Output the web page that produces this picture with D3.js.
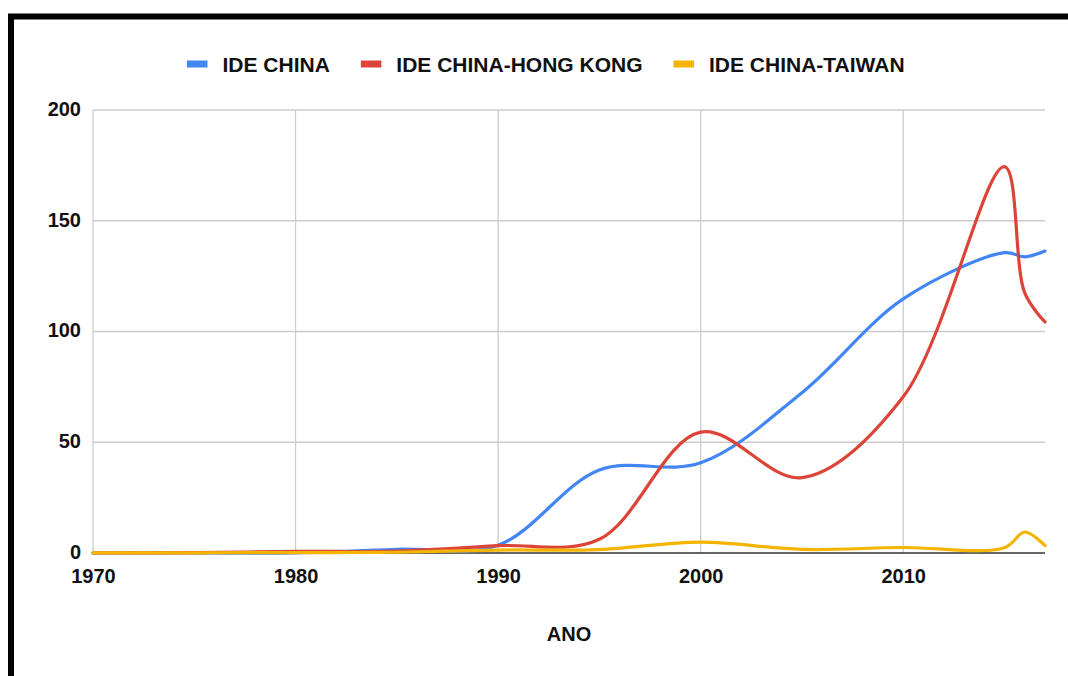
<!DOCTYPE html>
<html><head><meta charset="utf-8">
<script src="https://cdn.jsdelivr.net/npm/d3@7/dist/d3.min.js"></script>
<style>html,body{margin:0;padding:0;background:#fff;}svg{display:block;font-family:"Liberation Sans",Arial,sans-serif;}</style>
</head><body>
<svg id="c" width="1068" height="676"></svg>
<script>
const years = [1970,1975,1980,1985,1990,1995,2000,2005,2010,2015,2016,2017];
const ideChina = [0, 0, 0.06, 1.66, 3.49, 37.5, 40.7, 72.4, 114.7, 135.6, 133.7, 136.3];
const ideHongKong = [0, 0.2, 0.7, 0.9, 3.3, 6.2, 54.6, 34.0, 70.5, 174.4, 117.4, 104.3];
const ideTaiwan = [0.06, 0.1, 0.17, 0.34, 1.33, 1.56, 4.93, 1.63, 2.49, 2.41, 9.47, 3.3];
const seriesNames = ["IDE CHINA","IDE CHINA-HONG KONG","IDE CHINA-TAIWAN"];
const seriesColors = ["#4285F4","#DB4437","#F4B400"];
const xTicks = [1970,1980,1990,2000,2010];
const yTicks = [0,50,100,150,200];
const xTitle = "ANO";

const svg = d3.select("#c");
const L=93, R=1045, T=110, B=553;
const x = d3.scaleLinear().domain([1970,2017]).range([L,R]);
const y = d3.scaleLinear().domain([0,200]).range([B,T]);
const txt = "#111";

// frame border
svg.append("rect").attr("x",11).attr("y",16.5).attr("width",1120).attr("height",720)
  .attr("fill","none").attr("stroke","#000").attr("stroke-width",6);

// gridlines
svg.append("g").selectAll("line").data(yTicks.filter(d=>d>0)).join("line")
  .attr("x1",L).attr("x2",R).attr("y1",d=>y(d)).attr("y2",d=>y(d))
  .attr("stroke","#cccccc").attr("stroke-width",1.3);
svg.append("g").selectAll("line").data(xTicks).join("line")
  .attr("x1",d=>x(d)).attr("x2",d=>x(d)).attr("y1",T).attr("y2",B)
  .attr("stroke","#cccccc").attr("stroke-width",1.3);

// axes labels via d3 axes
const yAxis = svg.append("g").attr("transform",`translate(${L},0)`)
  .call(d3.axisLeft(y).tickValues(yTicks).tickSize(0).tickPadding(12));
yAxis.select(".domain").remove();
yAxis.selectAll("text").attr("font-size",20).attr("font-weight","bold").attr("fill",txt)
  .attr("font-family","'Liberation Sans',Arial,sans-serif").attr("dy","0.0em").attr("dominant-baseline","middle");

const xAxis = svg.append("g").attr("transform",`translate(0,${B})`)
  .call(d3.axisBottom(x).tickValues(xTicks).tickFormat(d3.format("d")).tickSize(0).tickPadding(16));
xAxis.select(".domain").remove();
xAxis.selectAll("text").attr("font-size",20).attr("font-weight","bold").attr("fill",txt)
  .attr("font-family","'Liberation Sans',Arial,sans-serif");

// baseline
svg.append("line").attr("x1",L).attr("x2",R).attr("y1",y(0)).attr("y2",y(0))
  .attr("stroke","#333").attr("stroke-width",1.3);

// lines
const series = [ideChina, ideHongKong, ideTaiwan];
const line = d3.line().x((d,i)=>x(years[i])).y(d=>y(d)).curve(d3.curveCatmullRom.alpha(0.5));
svg.append("g").selectAll("path").data(series).join("path")
  .attr("d",d=>line(d)).attr("fill","none")
  .attr("stroke",(d,i)=>seriesColors[i]).attr("stroke-width",3.2)
  .attr("stroke-linejoin","round").attr("stroke-linecap","round");

// x title
svg.append("text").attr("x",(L+R)/2).attr("y",641).attr("text-anchor","middle")
  .attr("font-size",20).attr("font-weight","bold").attr("fill",txt).text(xTitle);

// legend
const lg = svg.append("g");
let cx = 187;
seriesNames.forEach((n,i)=>{
  lg.append("rect").attr("x",cx).attr("y",60.5).attr("width",20.5).attr("height",7).attr("fill",seriesColors[i]);
  const t = lg.append("text").attr("x",cx+35.5).attr("y",72).attr("font-size",21).attr("font-weight","bold")
    .attr("fill",txt).text(n);
  cx += 35.5 + t.node().getComputedTextLength() + 31;
});
</script>
</body></html>
